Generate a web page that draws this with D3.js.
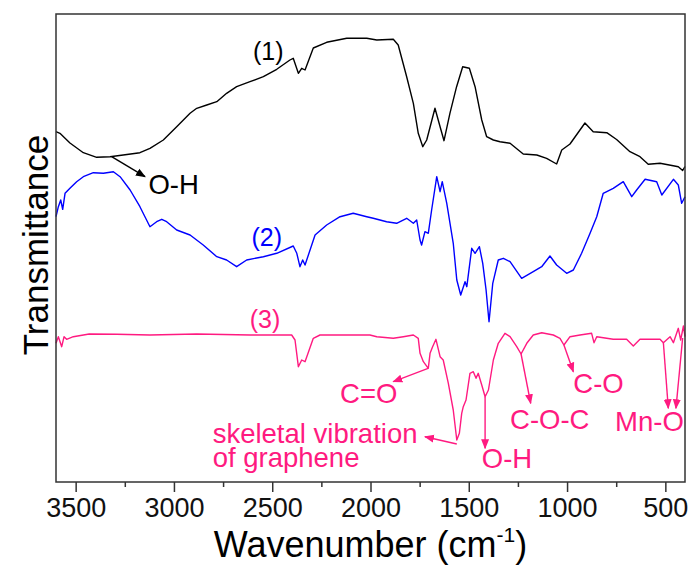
<!DOCTYPE html>
<html><head><meta charset="utf-8">
<script src="https://cdn.jsdelivr.net/npm/d3@7"></script>
<style>
html,body{margin:0;padding:0;background:#fff;}
svg text{font-family:Arial,"Liberation Sans",sans-serif;}
</style></head>
<body>
<svg id="chart" width="691" height="566"></svg>
<script>
// ---- data (wavenumber cm^-1, transmittance a.u.) ----
const wn1 = [3600,3580,3529,3461,3393,3325,3258,3173,3122,3054,2986,2918,2884,2833,2782,2732,2681,2613,2545,2477,2410,2393,2367,2350,2333,2291,2223,2121,2019,1968,1884,1859,1816,1782,1757,1734,1714,1672,1646,1626,1596,1562,1531,1497,1468,1434,1409,1375,1341,1290,1248,1223,1154,1104,1053,1027,985,909,867,798,748,680,629,587,527,460,434,412,400];
const t1  = [350.3,348.7,339,329.3,324.7,325.3,327,329.3,333.7,342,355.3,368.7,373.7,377,380.3,388.7,395.3,400.3,405.3,412.7,422,423.7,408.7,413.7,412,434,439.7,443.7,443.7,442,442.7,437,405.3,378.7,348.7,335.3,342,373.7,355.3,341.3,368.7,395.3,415.3,413.7,395.3,362,345.3,342,340.3,338.7,332,328,327,323.7,318,332,338,359,350.3,349.3,342.5,330.3,325.3,317.7,318.7,316.3,315.3,311.5,315.5];

const wn2 = [3600,3588,3576,3566,3554,3529,3495,3461,3410,3359,3308,3274,3223,3173,3122,3088,3062,3037,2986,2918,2851,2782,2732,2681,2630,2545,2477,2393,2375,2359,2345,2333,2282,2223,2155,2088,2019,1986,1918,1867,1816,1782,1765,1748,1740,1723,1706,1689,1663,1646,1635,1612,1579,1561,1541,1519,1510,1485,1468,1446,1429,1412,1397,1378,1350,1324,1290,1231,1172,1129,1087,1053,1002,968,926,883,849,816,765,714,671,646,603,544,518,459,434,417,400];
const t2  = [265.3,275.3,282,272.7,288.7,293.7,300.3,305.3,309.3,308.7,310.3,305.3,292,275.3,255.3,260.3,262.7,260.3,252,247,237,225.3,222,215.3,222,225.3,228.7,236,228.7,215.3,222,217,247,257,265.3,268.7,265.3,263.7,260.3,258.7,263.7,258.7,262,242,237,250.3,248.7,272,305.3,290.3,300.3,278.7,238.7,202,187,200.3,195.3,233.7,228.7,235.3,218.7,192,160.3,198.7,222,223.7,220.3,203.7,210.3,215.3,226,217,208.7,212,228.7,248.7,265.3,288.7,293.7,300.3,285.3,292,302.7,300.3,287,302.7,297,278.7,285.3];

const wn3 = [3600,3588,3571,3559,3546,3512,3431,3291,3122,2884,2613,2401,2384,2367,2350,2333,2291,2257,2003,1968,1884,1833,1782,1757,1748,1731,1706,1697,1684,1667,1646,1630,1604,1579,1561,1548,1536,1528,1514,1494,1477,1463,1452,1434,1417,1400,1375,1350,1316,1290,1256,1234,1205,1172,1129,1070,1036,1016,985,934,875,863,849,765,697,663,629,527,510,476,459,434,422,408,400];
const t3  = [138.7,145.3,135.3,145.3,142.7,145.3,148,147.7,147,148,147,147,142,115.3,122,120.3,143.7,147,147,145.3,143.7,145.3,147,143.7,128.7,120.3,113.7,128.7,135.3,142.7,125.3,122,98.7,72,42,48.7,68.7,75.3,82,108.7,110.3,103.7,108.7,97,85.3,92,122,138.7,148.7,145.3,135.3,128,138.7,147,149.3,147,143.7,137,145.3,147,148.7,139.3,145.3,142.7,142.7,136,142.7,142.7,139.3,145.3,139.3,153.7,142,156,145.3];

const xTicks = [3500,3000,2500,2000,1500,1000,500];
const xMinorTicks = [3250,2750,2250,1750,1250,750];
const seriesLabels = ["(1)","(2)","(3)"];
const xTitle = "Wavenumber (cm";
const yTitle = "Transmittance";

// ---- layout ----
const svg = d3.select("#chart");
const M = {left:56, right:685, top:14, bottom:482};
const x = d3.scaleLinear().domain([3600,400]).range([M.left, M.right]);
const y = d3.scaleLinear().domain([0,468]).range([M.bottom, M.top]);

const colors = ["#000000","#0000ff","#ff1a80"];

// arrow markers
const defs = svg.append("defs");
[["blk","#000"],["pnk",colors[2]]].forEach(([id,c])=>{
  defs.append("marker").attr("id","arr-"+id).attr("viewBox","0 0 10 10")
    .attr("refX",9).attr("refY",5).attr("markerWidth",10).attr("markerHeight",10)
    .attr("markerUnits","userSpaceOnUse").attr("orient","auto")
    .append("path").attr("d","M0,1 L10,5 L0,9 Z").attr("fill",c);
});

// curves
const line = d3.line().x(d=>x(d[0])).y(d=>y(d[1]));
const series = [d3.zip(wn1,t1), d3.zip(wn2,t2), d3.zip(wn3,t3)];
const g = svg.append("g");
series.forEach((s,i)=>{
  g.append("path").datum(s).attr("d",line).attr("fill","none")
    .attr("stroke",colors[i]).attr("stroke-width",1.4).attr("stroke-linejoin","round");
});

// frame
svg.append("rect").attr("x",M.left).attr("y",M.top)
  .attr("width",M.right-M.left).attr("height",M.bottom-M.top)
  .attr("fill","none").attr("stroke","#333").attr("stroke-width",1.5);

// x axis
const xAxis = d3.axisBottom(x).tickValues(xTicks).tickSize(10).tickPadding(6).tickFormat(d3.format("d"));
const ax = svg.append("g").attr("transform",`translate(0,${M.bottom})`).call(xAxis);
ax.select(".domain").remove();
ax.selectAll(".tick line").attr("stroke","#333").attr("stroke-width",1.5);
ax.selectAll(".tick text").attr("font-size",27).attr("fill","#111").attr("font-family","Arial, 'Liberation Sans', sans-serif");
const axm = svg.append("g").attr("transform",`translate(0,${M.bottom})`)
  .call(d3.axisBottom(x).tickValues(xMinorTicks).tickSize(5).tickFormat(""));
axm.select(".domain").remove();
axm.selectAll(".tick line").attr("stroke","#333").attr("stroke-width",1.5);

// axis titles
const xt = svg.append("text").attr("x",(M.left+M.right)/2).attr("y",557)
  .attr("text-anchor","middle").attr("font-size",36).attr("fill","#000");
xt.append("tspan").text(xTitle);
xt.append("tspan").attr("dy",-15).attr("font-size",21).text("-1");
xt.append("tspan").attr("dy",15).text(")");

svg.append("text").attr("transform","translate(48,245) rotate(-90)")
  .attr("text-anchor","middle").attr("font-size",35).attr("fill","#000").text(yTitle);

// series labels
const lab = [[2520,422,0],[2528,236,1],[2537,154,2]];
lab.forEach(([w,v,i])=>{
  svg.append("text").attr("x",x(w)).attr("y",y(v)).attr("text-anchor","middle")
    .attr("font-size",25).attr("fill",colors[i]).text(seriesLabels[i]);
});

// annotations: [text lines, x wn, baseline value, color index]
const annTexts = [
  [["O-H"],3130,288,0],
  [["C=O"],2155,79,2],
  [["skeletal vibration","of graphene"],2803,38.7,2],
  [["O-H"],1434,13.7,2],
  [["C-O-C"],1290,52.7,2],
  [["C-O"],968,89.3,2],
  [["Mn-O"],756,51,2]
];
annTexts.forEach(([lines,w,v,ci])=>{
  const t = svg.append("text").attr("x",x(w)).attr("y",y(v))
    .attr("font-size",27.5).attr("fill",colors[ci]);
  lines.forEach((l,k)=>{
    t.append("tspan").attr("x",x(w)).attr("dy",k===0?0:24).text(l);
  });
});
// arrows: [from wn, from v, to wn, to v, color]
const arrows = [
  [3317,325.3,3147,305.3,"blk"],
  [1707,113.7,1884,100.3,"pnk"],
  [1561,38,1723,45.3,"pnk"],
  [1417,85.3,1417,33.7,"pnk"],
  [1234,128,1185,78.7,"pnk"],
  [1016,137,968,110.3,"pnk"],
  [510,139.3,485,73.7,"pnk"],
  [412,144,446,73.7,"pnk"]
];
arrows.forEach(([w0,v0,w1,v1,c])=>{
  svg.append("line").attr("x1",x(w0)).attr("y1",y(v0)).attr("x2",x(w1)).attr("y2",y(v1))
    .attr("stroke",c==="blk"?"#000":colors[2]).attr("stroke-width",1.4)
    .attr("marker-end",`url(#arr-${c})`);
});
</script>
</body></html>
